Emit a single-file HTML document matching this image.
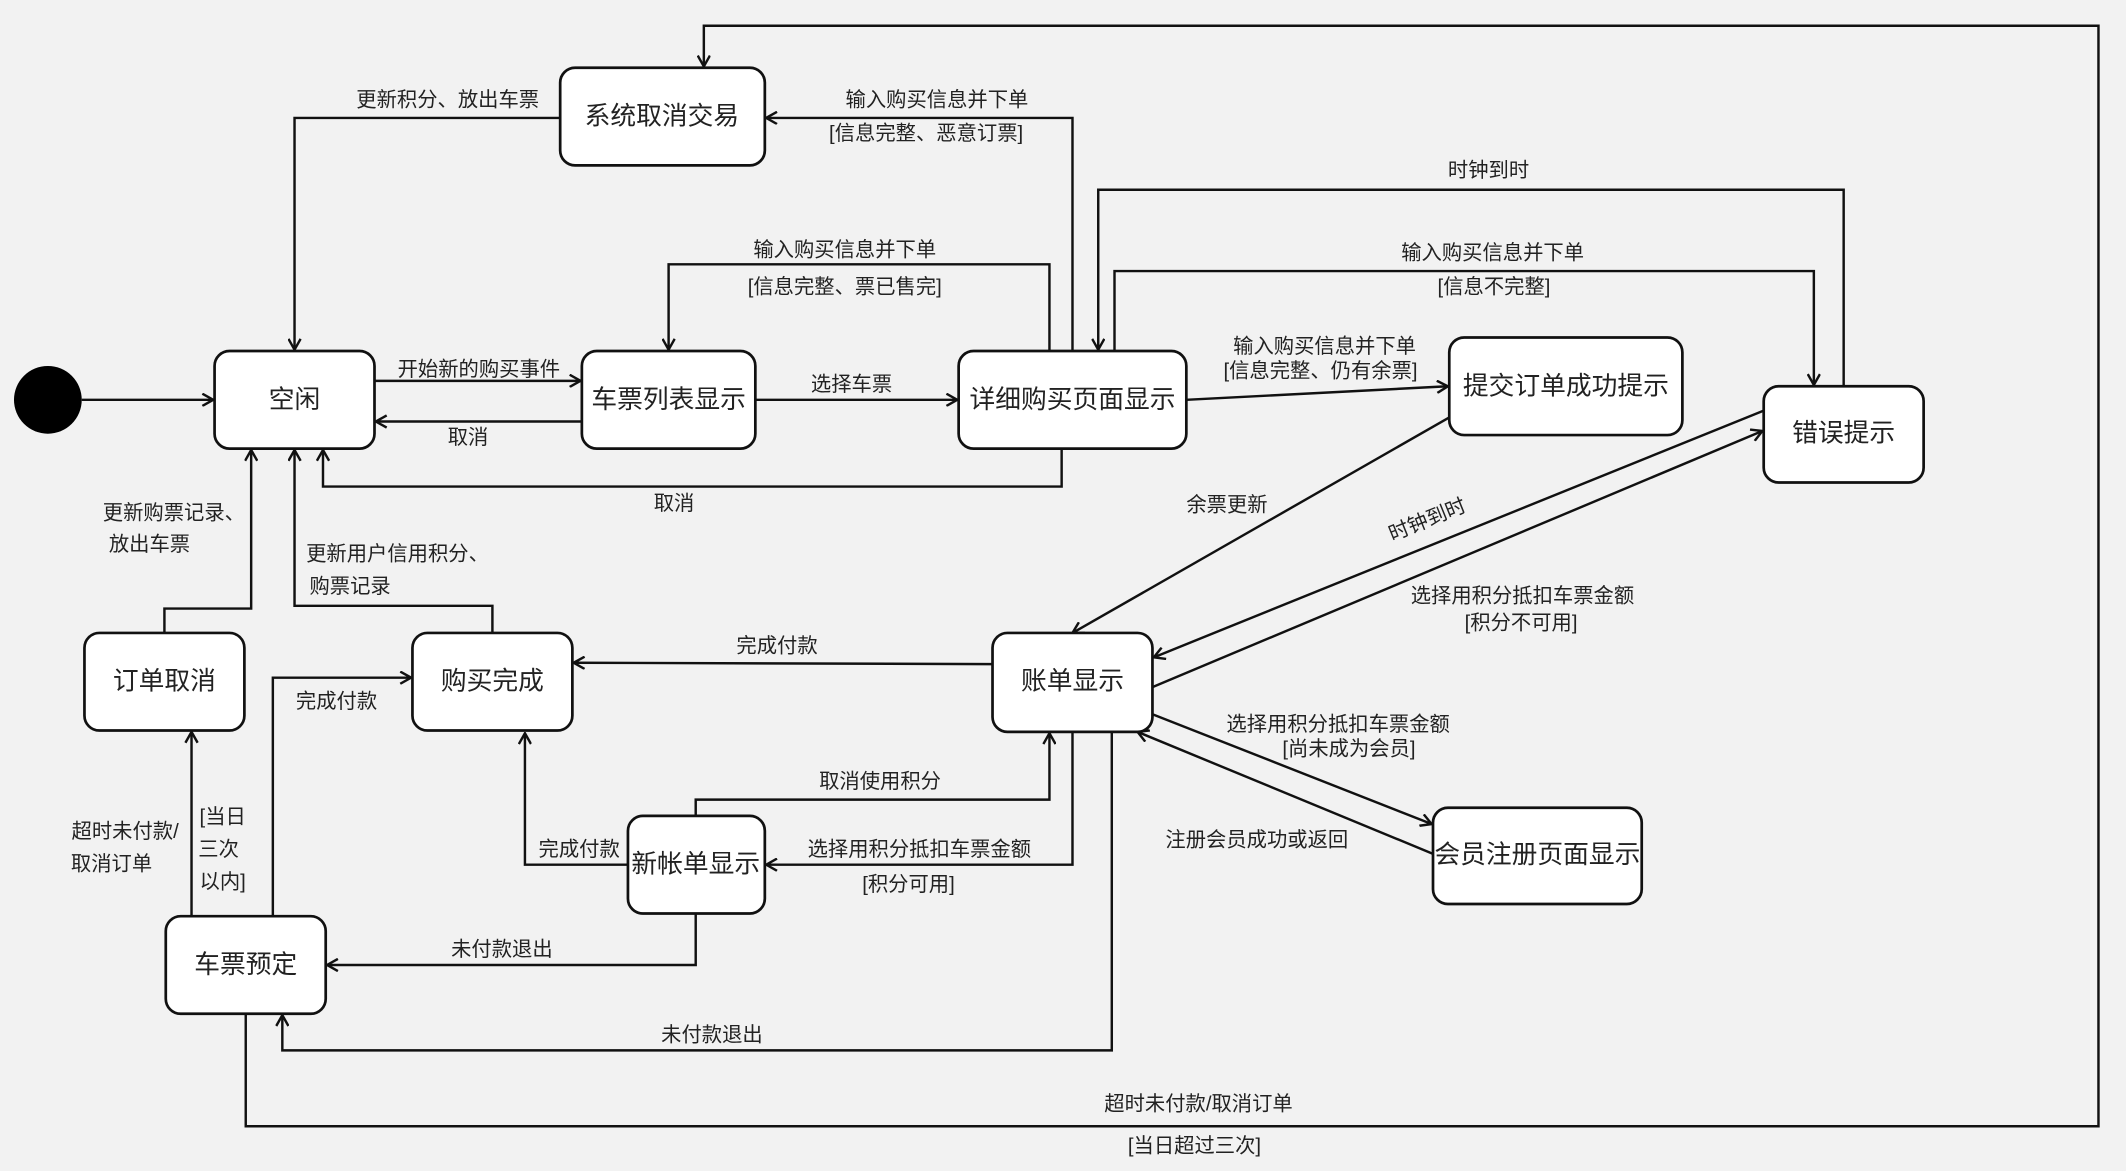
<!DOCTYPE html>
<html><head><meta charset="utf-8"><style>
html,body{margin:0;padding:0;background:#f2f2f2;}
svg{display:block;}
text{font-family:"Liberation Sans","Noto Sans CJK SC",sans-serif;fill:#222;}
.n{font-size:19px;text-anchor:middle;dominant-baseline:central;}
.l{font-size:15px;text-anchor:middle;dominant-baseline:central;}
rect{fill:#fff;stroke:#111;stroke-width:2;}
.e{fill:none;stroke:#111;stroke-width:1.8;marker-end:url(#a);}
</style></head><body>
<svg width="2126" height="1171" viewBox="0 0 1568 864" xmlns="http://www.w3.org/2000/svg">
<defs><marker id="a" viewBox="0 0 10 10" refX="9" refY="5" markerWidth="10" markerHeight="10" markerUnits="userSpaceOnUse" orient="auto"><path d="M1,0.5 L9,5 L1,9.5" fill="none" stroke="#111" stroke-width="1.8"/></marker></defs>
<rect x="0" y="0" width="1568" height="864" style="fill:#f2f2f2;stroke:none"/>
<circle cx="35" cy="295" r="25" fill="#000"/>
<!-- edges -->
<path class="e" d="M60,295 H157"/>
<path class="e" d="M276,281 H428"/><text class="l" x="353" y="273">开始新的购买事件</text>
<path class="e" d="M429,311 H277"/><text class="l" x="345" y="323">取消</text>
<path class="e" d="M557,295 H706"/><text class="l" x="628" y="284">选择车票</text>
<path class="e" d="M774,259 V195 H493 V258"/><text class="l" x="623" y="185">输入购买信息并下单</text><text class="l" x="623" y="212">[信息完整、票已售完]</text>
<path class="e" d="M783,331 V359 H238 V332"/><text class="l" x="497" y="372">取消</text>
<path class="e" d="M791,259 V87 H565"/><text class="l" x="691" y="74">输入购买信息并下单</text><text class="l" x="683" y="99">[信息完整、恶意订票]</text>
<path class="e" d="M413,87 H217 V258"/><text class="l" x="330" y="74">更新积分、放出车票</text>
<path class="e" d="M181,748 V831 H1548 V19 H519 V49"/><text class="l" x="884" y="815">超时未付款/取消订单</text><text class="l" x="881" y="846">[当日超过三次]</text>
<path class="e" d="M875,295 L1068,285"/><text class="l" x="977" y="256">输入购买信息并下单</text><text class="l" x="974" y="274">[信息完整、仍有余票]</text>
<path class="e" d="M1069,308 L791,467"/><text class="l" x="905" y="373">余票更新</text>
<path class="e" d="M1360,285 V140 H810 V258"/><text class="l" x="1098" y="126">时钟到时</text>
<path class="e" d="M822,259 V200 H1338 V284"/><text class="l" x="1101" y="187">输入购买信息并下单</text><text class="l" x="1102" y="212">[信息不完整]</text>
<path class="e" d="M850,507 L1300,318"/><text class="l" x="1123" y="440">选择用积分抵扣车票金额</text><text class="l" x="1122" y="460">[积分不可用]</text>
<path class="e" d="M1301,303 L851,485"/><text class="l" x="1053" y="384" transform="rotate(-22 1053 384)">时钟到时</text>
<path class="e" d="M850,527 L1056,608"/><text class="l" x="987" y="535">选择用积分抵扣车票金额</text><text class="l" x="995" y="553">[尚未成为会员]</text>
<path class="e" d="M1057,630 L839,540"/><text class="l" x="927" y="620">注册会员成功或返回</text>
<path class="e" d="M732,490 L423,489"/><text class="l" x="573" y="477">完成付款</text>
<path class="e" d="M791,540 V638 H565"/><text class="l" x="678" y="627">选择用积分抵扣车票金额</text><text class="l" x="670" y="653">[积分可用]</text>
<path class="e" d="M513,602 V590 H774 V541"/><text class="l" x="649" y="577">取消使用积分</text>
<path class="e" d="M463,638 H387 V541"/><text class="l" x="427" y="627">完成付款</text>
<path class="e" d="M513,674 V712 H241"/><text class="l" x="370" y="701">未付款退出</text>
<path class="e" d="M820,540 V775 H208 V749"/><text class="l" x="525" y="764">未付款退出</text>
<path class="e" d="M201,676 V500 H303"/><text class="l" x="248" y="518">完成付款</text>
<path class="e" d="M141,676 V540"/><text class="l" x="92" y="614">超时未付款/</text><text class="l" x="82" y="638">取消订单</text><text class="l" x="164" y="603">[当日</text><text class="l" x="161" y="627">三次</text><text class="l" x="164" y="651">以内]</text>
<path class="e" d="M121,467 V449 H185 V332"/><text class="l" x="128" y="379">更新购票记录、</text><text class="l" x="110" y="402">放出车票</text>
<path class="e" d="M363,467 V447 H217 V332"/><text class="l" x="293" y="409">更新用户信用积分、</text><text class="l" x="258" y="433">购票记录</text>
<!-- nodes -->
<rect x="158" y="259" width="118" height="72" rx="11"/><text class="n" x="217" y="295">空闲</text>
<rect x="429" y="259" width="128" height="72" rx="11"/><text class="n" x="493" y="295">车票列表显示</text>
<rect x="707" y="259" width="168" height="72" rx="11"/><text class="n" x="791" y="295">详细购买页面显示</text>
<rect x="1069" y="249" width="172" height="72" rx="11"/><text class="n" x="1155" y="285">提交订单成功提示</text>
<rect x="1301" y="285" width="118" height="71" rx="11"/><text class="n" x="1360" y="320">错误提示</text>
<rect x="413" y="50" width="151" height="72" rx="11"/><text class="n" x="488" y="86">系统取消交易</text>
<rect x="62" y="467" width="118" height="72" rx="11"/><text class="n" x="121" y="503">订单取消</text>
<rect x="304" y="467" width="118" height="72" rx="11"/><text class="n" x="363" y="503">购买完成</text>
<rect x="732" y="467" width="118" height="73" rx="11"/><text class="n" x="791" y="503">账单显示</text>
<rect x="463" y="602" width="101" height="72" rx="11"/><text class="n" x="513" y="638">新帐单显示</text>
<rect x="122" y="676" width="118" height="72" rx="11"/><text class="n" x="181" y="712">车票预定</text>
<rect x="1057" y="596" width="154" height="71" rx="11"/><text class="n" x="1134" y="631">会员注册页面显示</text>
</svg>
</body></html>
